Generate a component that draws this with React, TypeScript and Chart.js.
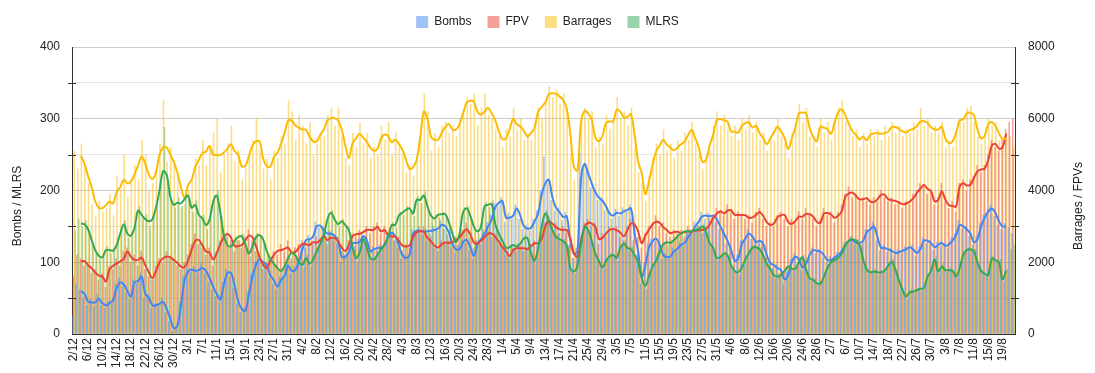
import React, { useEffect, useRef } from "react";
import { Chart, registerables } from "chart.js";

Chart.register(...registerables);

const FONT = "Arial, 'Liberation Sans', Helvetica, sans-serif";
const DAY_COUNT = 264;
// categories: one per day from 2 Dec to 22 Aug
const dayLabels: string[] = Array.from({ length: DAY_COUNT }, (_, i) => {
  const d = new Date(Date.UTC(2024, 11, 2 + i));
  return `${d.getUTCDate()}/${d.getUTCMonth() + 1}`;
});

const leftTickLabels = [0, 100, 200, 300, 400];
const rightTickLabels = [0, 2000, 4000, 6000, 8000];
const leftMinorTicks = [50, 150, 250, 350];
const rightMinorTicks = [1000, 3000, 5000, 7000];

const seriesNames = ["Bombs", "FPV", "Barrages", "MLRS"];
const leftTitle = "Bombs / MLRS";
const rightTitle = "Barrages / FPVs";

// daily values (bars)
const bombsDaily = [
  25, 70, 62, 50, 40, 48, 38, 55, 40, 36, 46, 42, 70, 78, 66, 58, 48, 76, 70, 85,
  50, 55, 36, 42, 38, 50, 30, 18, 4, 10, 45, 80, 92, 86, 94, 85, 98, 84, 72, 62,
  52, 44, 72, 90, 80, 64, 42, 30, 36, 58, 84, 100, 110, 96, 100, 78, 70, 62, 80, 78,
  100, 84, 94, 104, 122, 128, 138, 130, 156, 148, 150, 136, 144, 132, 126, 100, 112, 110, 130, 122,
  132, 140, 126, 110, 122, 116, 124, 120, 140, 146, 130, 120, 104, 110, 106, 146, 140, 150, 138, 146,
  140, 150, 144, 158, 146, 138, 120, 112, 124, 132, 126, 116, 104, 130, 128, 146, 156, 166, 182, 178,
  190, 156, 168, 160, 180, 160, 146, 152, 144, 160, 172, 200, 247, 210, 186, 172, 176, 158, 170, 124,
  106, 120, 252, 230, 228, 204, 202, 186, 190, 172, 172, 160, 174, 164, 176, 170, 180, 130, 110, 70,
  100, 126, 132, 128, 130, 104, 112, 104, 120, 116, 128, 122, 140, 138, 156, 152, 170, 160, 168, 162,
  156, 146, 144, 126, 122, 96, 110, 130, 128, 146, 132, 132, 126, 130, 104, 102, 92, 96, 84, 70,
  86, 104, 112, 100, 88, 102, 106, 120, 112, 118, 106, 100, 108, 104, 114, 112, 128, 126, 136, 124,
  130, 126, 146, 142, 156, 130, 116, 124, 114, 120, 110, 118, 112, 122, 118, 124, 108, 122, 134, 126,
  130, 116, 128, 122, 126, 120, 134, 140, 158, 146, 150, 136, 124, 136, 154, 166, 168, 180, 164, 152,
  146, 154, 148, 140,
];
const fpvDaily = [
  1600, 2200, 2100, 1900, 2000, 1700, 1800, 1500, 1700, 1300, 1900, 1800, 2100, 1900, 2300, 2400, 2000, 2200, 1900, 2300,
  1800, 1600, 1500, 1900, 2100, 2000, 2300, 2100, 2000, 1900, 1800, 2000, 2200, 2500, 2800, 2500, 2400, 2200, 2400, 1900,
  2300, 2600, 2900, 2700, 2600, 2300, 2600, 2400, 2700, 2900, 2600, 2300, 2000, 1800, 2000, 2100, 2300, 2200, 2500, 2300,
  2600, 2100, 2400, 2500, 2600, 2400, 2600, 2500, 2700, 2500, 2900, 2500, 2800, 2600, 2700, 2300, 2200, 2600, 2800, 2700,
  2900, 2700, 3000, 2800, 3000, 3100, 2800, 3000, 2700, 2800, 2600, 2700, 2300, 2500, 2400, 2800, 2900, 2800, 3000, 2600,
  2700, 2400, 2300, 2600, 2500, 2600, 2500, 2700, 2600, 2900, 3100, 2700, 2400, 2600, 2500, 2800, 2900, 2700, 2800, 2500,
  2400, 2200, 2100, 2400, 2300, 2500, 2300, 2400, 2500, 2600, 2400, 2800, 3100, 3300, 3000, 3100, 2800, 3000, 2800, 2500,
  2100, 2200, 2700, 3100, 3200, 3000, 3100, 2500, 2800, 2700, 3000, 2900, 3000, 2700, 2600, 3000, 3200, 3000, 2700, 2400,
  2800, 3000, 3100, 3300, 3000, 3100, 2800, 2700, 2900, 2800, 2900, 2700, 3000, 2800, 2900, 3000, 2800, 3000, 3200, 3300,
  3500, 3400, 3300, 3600, 3400, 3200, 3400, 3300, 3200, 3300, 3100, 3400, 3500, 3200, 3000, 3100, 3000, 3300, 3400, 3200,
  3000, 3200, 3100, 3400, 3200, 3500, 3300, 3200, 3000, 3200, 3500, 3300, 3400, 3100, 3400, 3600, 3900, 4100, 3800, 3900,
  3700, 3800, 3700, 3600, 3800, 3700, 4000, 3800, 3700, 3800, 3600, 3700, 3500, 3700, 3600, 3900, 4000, 4200, 4100, 3900,
  4000, 3600, 3800, 4200, 3700, 3500, 3700, 3400, 4200, 4300, 4000, 4300, 4400, 4700, 4500, 4700, 5000, 5400, 5200, 5100,
  5400, 5700, 5900, 6000,
];
const barragesDaily = [
  5100, 4600, 5300, 4700, 4200, 3600, 3300, 3700, 3400, 3500, 3900, 3300, 4400, 4000, 5000, 3800, 4300, 4700, 4300, 5400,
  5000, 4000, 4200, 4600, 5300, 6500, 4800, 5200, 4700, 4400, 3500, 3600, 4000, 4300, 4900, 4700, 5400, 4700, 5200, 5600,
  6000, 4500, 5000, 5300, 5800, 4800, 5100, 4300, 4600, 5000, 5400, 6000, 5100, 4600, 4900, 4300, 5100, 4900, 5500, 5300,
  6500, 6200, 5400, 6100, 5800, 5300, 5900, 5000, 5300, 5600, 5500, 6100, 6300, 5800, 6300, 5500, 4900, 4700, 5600, 5200,
  5900, 5300, 5600, 4900, 5200, 5000, 5800, 5400, 5900, 5000, 5600, 5200, 5000, 4500, 4700, 4400, 5000, 5600, 6700, 6200,
  5100, 5600, 5200, 5800, 5900, 5600, 5800, 5500, 6000, 6100, 6600, 6400, 6700, 5800, 6300, 6700, 6100, 6000, 5700, 5500,
  5200, 5700, 5500, 6300, 5700, 6000, 5400, 5600, 5400, 5900, 6300, 6000, 6500, 6900, 6600, 6800, 6400, 6700, 6300, 5000,
  4300, 4700, 6000, 6300, 6000, 6200, 5200, 5500, 5300, 6100, 5700, 6000, 6600, 6000, 6200, 5800, 6300, 5200, 4500, 4200,
  3700, 4400, 4900, 5300, 5000, 5700, 5100, 5300, 4900, 5400, 5100, 5600, 5400, 5900, 5300, 5000, 4600, 5000, 5100, 5800,
  6200, 5800, 6100, 5700, 5500, 5800, 5400, 6000, 5700, 6100, 5600, 5900, 5400, 5600, 5100, 5500, 5400, 6000, 5500, 5300,
  4900, 5600, 5900, 6400, 5900, 6300, 5500, 5400, 5200, 6000, 5600, 5900, 5400, 6000, 6300, 6500, 5900, 5700, 5500, 5700,
  5200, 5600, 5300, 5700, 5500, 5700, 5400, 5800, 5500, 5900, 5600, 5800, 5500, 5700, 5600, 5900, 5700, 6300, 5800, 6000,
  5600, 5800, 5600, 5900, 5200, 5400, 5200, 5700, 6000, 5900, 6300, 6350, 5900, 5500, 5300, 5600, 6000, 5800, 5900, 5400,
  5300, 5600, 5500, 5200,
];
const mlrsDaily = [
  145, 160, 150, 158, 140, 126, 112, 104, 110, 122, 112, 120, 128, 146, 158, 134, 142, 152, 178, 160,
  166, 150, 164, 180, 210, 288, 214, 186, 176, 190, 178, 196, 188, 170, 186, 160, 166, 146, 164, 190,
  200, 164, 132, 120, 126, 134, 130, 140, 120, 108, 128, 140, 134, 128, 112, 100, 96, 88, 92, 98,
  110, 116, 106, 98, 92, 110, 94, 108, 120, 130, 140, 166, 172, 156, 150, 160, 148, 140, 118, 100,
  118, 136, 116, 102, 108, 114, 122, 128, 140, 156, 148, 170, 166, 178, 172, 164, 192, 182, 198, 172,
  160, 166, 162, 170, 164, 150, 136, 124, 146, 176, 178, 160, 146, 140, 156, 184, 176, 186, 148, 136,
  126, 116, 124, 120, 126, 122, 138, 130, 108, 98, 126, 156, 172, 152, 140, 138, 128, 132, 120, 86,
  84, 100, 130, 154, 140, 126, 108, 98, 90, 106, 112, 106, 102, 124, 130, 116, 122, 106, 96, 72,
  62, 84, 98, 106, 118, 128, 124, 130, 134, 138, 144, 140, 146, 140, 148, 150, 152, 138, 124, 116,
  102, 110, 114, 106, 92, 86, 82, 96, 108, 116, 124, 118, 120, 106, 94, 88, 78, 84, 80, 92,
  96, 88, 94, 104, 110, 86, 74, 78, 68, 72, 84, 96, 98, 106, 104, 116, 128, 134, 130, 132,
  120, 100, 88, 84, 90, 82, 88, 86, 98, 104, 86, 70, 58, 48, 62, 56, 64, 60, 66, 84,
  90, 108, 84, 98, 86, 92, 84, 78, 96, 114, 120, 116, 118, 96, 86, 80, 84, 108, 100, 104,
  72, 90, 118, 124,
];

// smoothed values (lines)
const bombsTrend = [
  null, null,
  60, 56, 45, 44, 44, 49, 43, 40, 43, 47, 64, 72, 69, 60, 52, 72, 74, 80, 56, 51,
  40, 40, 42, 45, 35, 22, 8, 12, 40, 75, 87, 90, 88, 89, 92, 88, 78, 66, 56, 48,
  68, 85, 85, 68, 46, 35, 32, 55, 80, 96, 104, 100, 96, 82, 75, 66, 75, 81, 95, 88,
  89, 100, 118, 131, 132, 136, 150, 151, 145, 140, 140, 137, 130, 108, 107, 114, 126, 127, 128, 136,
  131, 115, 118, 120, 120, 125, 135, 141, 136, 124, 110, 106, 110, 140, 144, 144, 143, 143, 144, 145,
  147, 152, 150, 142, 125, 118, 118, 128, 131, 121, 109, 125, 132, 140, 150, 160, 177, 183, 185, 162,
  162, 165, 175, 165, 150, 147, 148, 157, 168, 195, 210, 215, 190, 176, 170, 163, 164, 130, 112, 115,
  215, 237, 224, 210, 198, 190, 186, 178, 168, 165, 169, 168, 171, 173, 175, 140, 115, 80, 95, 120,
  129, 133, 125, 110, 107, 108, 115, 119, 124, 127, 135, 142, 150, 157, 164, 165, 164, 165, 160, 150,
  140, 130, 118, 102, 105, 125, 133, 140, 136, 128, 130, 126, 110, 99, 96, 92, 89, 76, 82, 100,
  108, 104, 93, 98, 110, 117, 116, 115, 110, 103, 103, 107, 110, 116, 124, 130, 131, 127, 127, 130,
  142, 146, 150, 135, 120, 120, 118, 116, 113, 114, 116, 118, 121, 118, 113, 118, 130, 130, 127, 121,
  124, 127, 123, 125, 130, 138, 152, 150, 146, 140, 128, 132, 150, 162, 171, 175, 169, 157, 150, 150,
  null, null,
];
const fpvTrend = [
  null, null,
  2030, 2030, 1920, 1830, 1710, 1630, 1600, 1460, 1800, 1900, 1960, 2020, 2100, 2300, 2150, 2065, 2065, 2130, 1920, 1720,
  1560, 1750, 2000, 2110, 2160, 2140, 2060, 1980, 1880, 1860, 2050, 2350, 2600, 2620, 2470, 2300, 2270, 2080, 2250, 2500,
  2700, 2790, 2690, 2450, 2450, 2480, 2600, 2740, 2700, 2450, 2150, 1930, 1840, 2040, 2200, 2310, 2340, 2370, 2410, 2260,
  2290, 2400, 2510, 2500, 2480, 2560, 2540, 2620, 2730, 2620, 2680, 2670, 2580, 2410, 2310, 2480, 2720, 2780, 2790, 2840,
  2900, 2900, 2900, 2990, 2860, 2900, 2760, 2715, 2715, 2600, 2460, 2440, 2470, 2700, 2840, 2860, 2850, 2680, 2580, 2460,
  2410, 2500, 2550, 2540, 2560, 2620, 2690, 2830, 2920, 2780, 2550, 2520, 2600, 2700, 2800, 2800, 2710, 2570, 2420, 2300,
  2170, 2330, 2390, 2390, 2390, 2370, 2450, 2530, 2530, 2650, 3000, 3150, 3070, 2980, 2920, 2900, 2900, 2660, 2250, 2150,
  2600, 2990, 3100, 3080, 2990, 2650, 2680, 2800, 2900, 2930, 2890, 2830, 2720, 2900, 3080, 3050, 2850, 2530, 2740, 2900,
  3050, 3130, 3100, 2980, 2900, 2810, 2840, 2850, 2810, 2840, 2855, 2855, 2875, 2890, 2900, 2920, 3050, 3230, 3350, 3420,
  3360, 3440, 3450, 3320, 3320, 3320, 3310, 3240, 3250, 3320, 3400, 3290, 3120, 3040, 3080, 3250, 3310, 3320, 3120, 3070,
  3150, 3270, 3270, 3350, 3340, 3270, 3130, 3100, 3360, 3370, 3330, 3240, 3300, 3420, 3820, 3920, 3940, 3850, 3750, 3760,
  3785, 3690, 3680, 3760, 3880, 3880, 3760, 3730, 3710, 3665, 3620, 3630, 3690, 3780, 3930, 4050, 4150, 4050, 3980, 3700,
  3740, 3980, 3750, 3590, 3570, 3550, 4100, 4200, 4140, 4160, 4350, 4530, 4590, 4610, 4850, 5250, 5300, 5170, 5200, 5580,
  null, null,
];
const barragesTrend = [
  null, null,
  4966, 4750, 4400, 4100, 3700, 3520, 3510, 3590, 3690, 3640, 3950, 4100, 4300, 4200, 4250, 4450, 4700, 4950, 4750, 4450,
  4320, 4500, 5000, 5200, 5200, 5000, 4800, 4500, 4100, 3800, 4150, 4300, 4650, 4850, 5050, 5080, 5250, 5000, 4990, 4990,
  5060, 5160, 5290, 5100, 5000, 4680, 4680, 4950, 5250, 5370, 5370, 4900, 4680, 4660, 4920, 5050, 5300, 5600, 5950, 5950,
  5820, 5750, 5700, 5690, 5500, 5370, 5370, 5550, 5700, 5950, 6017, 6017, 5950, 5700, 5270, 4900, 5300, 5450, 5580, 5480,
  5360, 5200, 5110, 5160, 5450, 5560, 5520, 5340, 5420, 5300, 5130, 4860, 4600, 4650, 4860, 5500, 6200, 6000, 5500, 5413,
  5420, 5600, 5770, 5850, 5700, 5700, 5850, 6150, 6450, 6500, 6480, 6200, 6120, 6200, 6300, 6150, 5950, 5650, 5430, 5450,
  5700, 6000, 5850, 5790, 5660, 5500, 5600, 5750, 6200, 6330, 6450, 6680, 6710, 6700, 6620, 6520, 6280, 5600, 4650, 4560,
  5900, 6220, 6150, 5970, 5480, 5370, 5520, 5880, 5924, 5924, 6250, 6200, 6040, 6050, 6130, 5550, 4800, 4480, 3900, 4250,
  4700, 5080, 5250, 5410, 5280, 5200, 5120, 5200, 5290, 5360, 5550, 5690, 5450, 5200, 4800, 4850, 5250, 5550, 5960, 5990,
  5960, 5920, 5650, 5640, 5610, 5800, 5880, 5900, 5760, 5800, 5600, 5460, 5290, 5450, 5620, 5780, 5650, 5460, 5150, 5450,
  5750, 6150, 6170, 6150, 5750, 5500, 5370, 5780, 5750, 5710, 5580, 5900, 6180, 6260, 6100, 5850, 5650, 5550, 5420, 5500,
  5400, 5550, 5590, 5600, 5580, 5600, 5645, 5770, 5770, 5720, 5650, 5620, 5680, 5720, 5790, 5920, 5930, 5880, 5760, 5700,
  5700, 5780, 5450, 5320, 5370, 5600, 5950, 5980, 6150, 6170, 6100, 5700, 5450, 5530, 5850, 5910, 5800, 5600, 5430, 5450,
  null, null,
];
const mlrsTrend = [
  null, null,
  154, 153, 146, 131, 117, 109, 107, 117, 117, 116, 124, 140, 153, 140, 137, 148, 172, 166, 160, 157,
  160, 176, 200, 227, 222, 192, 180, 183, 182, 188, 193, 176, 180, 166, 161, 152, 159, 184, 193, 170,
  138, 124, 122, 130, 135, 136, 126, 112, 122, 135, 138, 132, 116, 105, 98, 92, 88, 94, 106, 113,
  110, 101, 96, 106, 98, 104, 115, 126, 137, 160, 169, 160, 153, 157, 152, 145, 122, 106, 113, 132,
  121, 106, 104, 110, 118, 124, 135, 152, 152, 165, 169, 173, 175, 168, 187, 187, 193, 178, 165, 161,
  166, 167, 167, 156, 140, 128, 140, 170, 175, 165, 150, 143, 150, 178, 180, 181, 153, 140, 130, 120,
  121, 124, 122, 126, 133, 134, 113, 102, 120, 150, 168, 158, 145, 135, 132, 129, 124, 92, 87, 95,
  125, 149, 145, 130, 112, 102, 93, 102, 108, 110, 106, 120, 126, 120, 118, 110, 100, 78, 67, 80,
  94, 102, 115, 125, 128, 127, 131, 136, 140, 143, 143, 143, 145, 146, 150, 142, 127, 120, 106, 107,
  112, 110, 96, 88, 86, 92, 104, 113, 120, 121, 118, 110, 98, 91, 82, 80, 82, 88, 94, 91,
  91, 100, 107, 90, 78, 75, 71, 70, 80, 92, 100, 103, 106, 112, 124, 130, 132, 130, 124, 104,
  90, 86, 87, 86, 86, 88, 95, 101, 90, 75, 62, 52, 58, 59, 61, 63, 64, 80, 88, 104,
  87, 94, 89, 89, 88, 80, 92, 110, 117, 118, 115, 100, 88, 84, 82, 105, 103, 100, 76, 88,
  null, null,
];

const lineColors = ["#4285F4", "#EA4335", "#FBBC04", "#34A853"];
const barColors = [
  "rgba(66,133,244,0.5)",
  "rgba(234,67,53,0.5)",
  "rgba(251,188,4,0.5)",
  "rgba(52,168,83,0.5)",
];

const legendHeightPlugin = {
  id: "legendHeight",
  beforeInit(chart: any) {
    const lg = chart.legend;
    if (!lg) return;
    const orig = lg.fit;
    lg.fit = function () {
      orig.call(this);
      this.height = 47;
    };
  },
};

const decorPlugin = {
  id: "decor",
  afterDraw(chart: any) {
    const ctx = chart.ctx as CanvasRenderingContext2D;
    const { left, right } = chart.chartArea;
    const y = chart.scales.y;
    const y1 = chart.scales.y1;
    ctx.save();
    ctx.strokeStyle = "#333";
    ctx.lineWidth = 1;
    leftMinorTicks.forEach((v) => {
      const py = Math.round(y.getPixelForValue(v)) + 0.5;
      ctx.beginPath();
      ctx.moveTo(left - 4, py);
      ctx.lineTo(left + 4, py);
      ctx.stroke();
    });
    rightMinorTicks.forEach((v) => {
      const py = Math.round(y1.getPixelForValue(v)) + 0.5;
      ctx.beginPath();
      ctx.moveTo(right - 4, py);
      ctx.lineTo(right + 4, py);
      ctx.stroke();
    });
    ctx.fillStyle = "#222";
    ctx.font = `12px ${FONT}`;
    ctx.textAlign = "center";
    ctx.textBaseline = "alphabetic";
    ctx.save();
    ctx.translate(21, 206);
    ctx.rotate(-Math.PI / 2);
    ctx.fillText(leftTitle, 0, 0);
    ctx.restore();
    ctx.save();
    ctx.translate(1082, 206);
    ctx.rotate(-Math.PI / 2);
    ctx.fillText(rightTitle, 0, 0);
    ctx.restore();
    ctx.restore();
  },
};

export default function App() {
  const ref = useRef<HTMLCanvasElement>(null);
  useEffect(() => {
    document.body.style.margin = "0";
    const canvas = ref.current;
    if (!canvas) return;
    const barSets = [bombsDaily, fpvDaily, barragesDaily, mlrsDaily];
    const lineSets = [bombsTrend, fpvTrend, barragesTrend, mlrsTrend];
    const axes = ["y", "y1", "y1", "y"];
    const datasets: any[] = [];
    seriesNames.forEach((name, k) => {
      datasets.push({
        type: "bar",
        label: name,
        data: barSets[k],
        yAxisID: axes[k],
        backgroundColor: barColors[k],
        borderWidth: 0,
        barPercentage: 1,
        categoryPercentage: 1,
        order: 10,
      });
    });
    seriesNames.forEach((name, k) => {
      datasets.push({
        type: "line",
        label: name + " trend",
        data: lineSets[k],
        yAxisID: axes[k],
        borderColor: lineColors[k],
        backgroundColor: lineColors[k],
        borderWidth: 2,
        pointRadius: 0,
        tension: 0.35,
        fill: false,
        order: 4 - k,
      });
    });
    const tickFont = { size: 12, family: FONT };
    const chart = new Chart(canvas, {
      type: "bar",
      data: { labels: dayLabels, datasets },
      plugins: [legendHeightPlugin, decorPlugin],
      options: {
        responsive: false,
        animation: false,
        devicePixelRatio: 1,
        layout: { padding: 0 },
        plugins: {
          legend: {
            position: "top",
            labels: {
              boxWidth: 12,
              boxHeight: 12,
              padding: 16,
              color: "#222",
              font: { size: 12, family: FONT },
              filter: (item: any) => item.datasetIndex < 4,
            },
          },
          tooltip: { enabled: false },
        },
        scales: {
          x: {
            grid: { display: false, drawTicks: false },
            border: { display: true, color: "#333" },
            ticks: {
              autoSkip: false,
              maxRotation: 90,
              minRotation: 90,
              padding: 4,
              color: "#222",
              font: tickFont,
              callback: (_v: any, i: number) => (i % 4 === 0 ? dayLabels[i] : ""),
            },
            afterFit: (s: any) => {
              s.height = 39;
            },
          },
          y: {
            position: "left",
            min: 0,
            max: 400,
            ticks: {
              stepSize: 50,
              padding: 12,
              color: "#222",
              font: tickFont,
              callback: (v: any) => (leftTickLabels.includes(Number(v)) ? String(v) : ""),
            },
            grid: {
              drawTicks: false,
              color: (ctx: any) =>
                ctx.tick && ctx.tick.value % 100 === 0 ? "#cccccc" : "#e6e6e6",
            },
            border: { color: "#333" },
            afterFit: (s: any) => {
              s.width = 72;
            },
          },
          y1: {
            position: "right",
            min: 0,
            max: 8000,
            ticks: {
              stepSize: 1000,
              padding: 13,
              color: "#222",
              font: tickFont,
              callback: (v: any) => (rightTickLabels.includes(Number(v)) ? String(v) : ""),
            },
            grid: { drawOnChartArea: false, drawTicks: false },
            border: { color: "#333" },
            afterFit: (s: any) => {
              s.width = 80;
            },
          },
        },
      } as any,
    });
    return () => chart.destroy();
  }, []);
  return (
    <div style={{ width: 1095, height: 373, position: "relative" }}>
      <canvas
        ref={ref}
        width={1095}
        height={373}
        style={{ display: "block", width: 1095, height: 373 }}
      />
    </div>
  );
}
